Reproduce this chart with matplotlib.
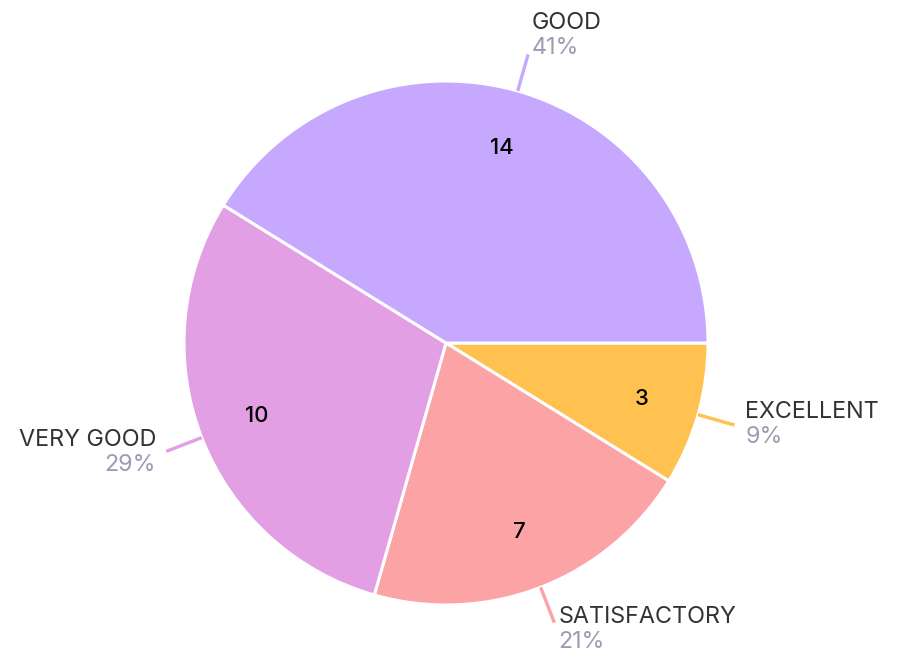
import numpy as np
import matplotlib
matplotlib.use('Agg')
import matplotlib.pyplot as plt

plt.rcParams['font.family'] = ['Inter', 'DejaVu Sans']

# data, in clockwise order starting at 3 o'clock
labels = ['EXCELLENT', 'SATISFACTORY', 'VERY GOOD', 'GOOD']
counts = [3, 7, 10, 14]
colors = ['#FFC14F', '#FBA3A5', '#E29FE3', '#C6A8FF']

name_color = '#333333'
pct_color = '#9B9BB5'

fig = plt.figure(figsize=(8.99, 6.53), dpi=100)
ax = fig.add_axes([0, 0, 1, 1])

wedges, _ = ax.pie(counts, colors=colors, startangle=0, counterclock=False,
                   radius=1.0,
                   wedgeprops=dict(edgecolor='white', linewidth=2.2))

total = sum(counts)
for w, n, lab, col in zip(wedges, counts, labels, colors):
    mid = np.deg2rad((w.theta1 + w.theta2) / 2)
    c, s = np.cos(mid), np.sin(mid)
    # value inside slice
    ax.text(0.775 * c, 0.775 * s, str(n), ha='center', va='center',
            fontsize=16, fontweight='medium', color='black')
    # leader line
    ax.plot([1.0 * c, 1.145 * c], [1.0 * s, 1.145 * s], color=col,
            lw=2.4, solid_capstyle='butt')
    ex, ey = 1.145 * c, 1.145 * s
    ha = 'left' if c >= 0 else 'right'
    # text anchored a little further out along the radius
    dx, dy = 8 * c, 8 * s
    base = 5.8 if s > 0.7 else 2.3
    pct = round(100 * n / total)
    ax.annotate(lab, (ex, ey), xytext=(dx, dy + base + 9), textcoords='offset points',
                ha=ha, va='center', fontsize=16.8, color=name_color)
    ax.annotate(f'{pct}%', (ex, ey), xytext=(dx, dy + base - 9), textcoords='offset points',
                ha=ha, va='center', fontsize=16.8, color=pct_color)

ax.set_aspect('auto')
ax.set_xlim(-446 / 262, (899 - 446) / 262)
ax.set_ylim(-(653 - 343) / 262, 343 / 262)
ax.axis('off')

fig.savefig('out.png', dpi=100, facecolor='white')
